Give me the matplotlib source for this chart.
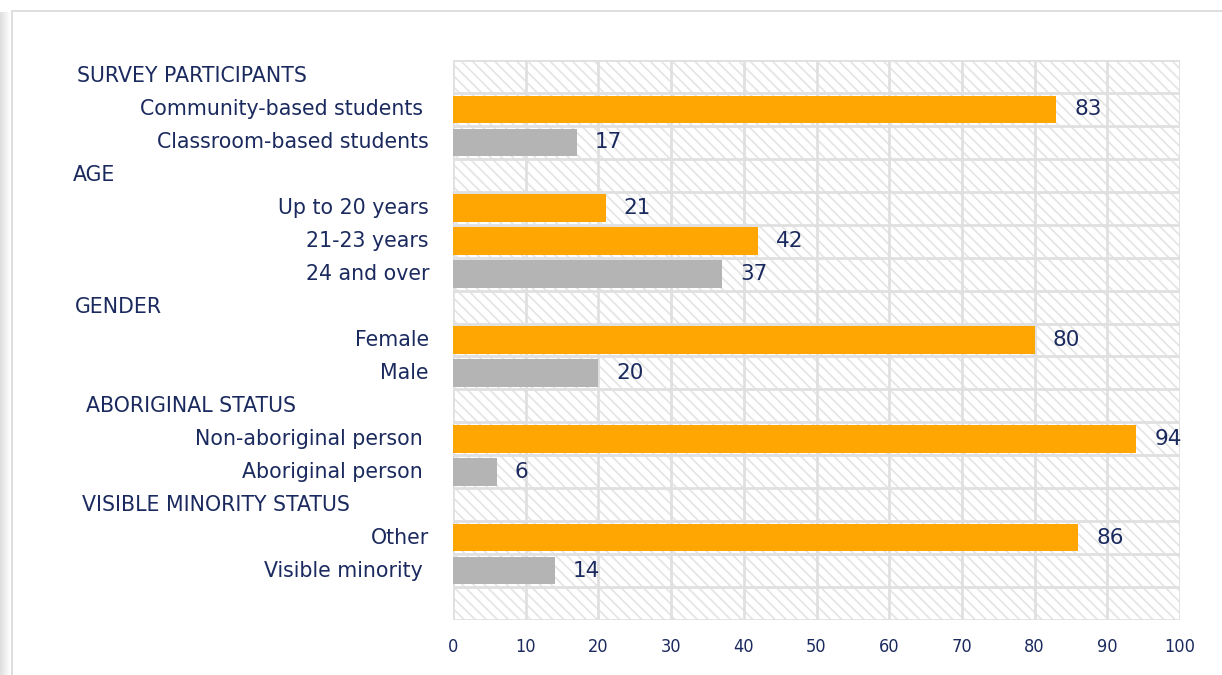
import numpy as np
import matplotlib.pyplot as plt
from matplotlib.patches import Rectangle

plt.rcParams['font.family'] = ['DejaVu Sans']
plt.rcParams['hatch.linewidth'] = 1.2
plt.rcParams['hatch.color'] = '#e4e4e4'

# rows from top to bottom; 'h' marks a section header
labels = ["SURVEY PARTICIPANTS", "Community-based students ", "Classroom-based students",
          "AGE", "Up to 20 years", "21-23 years", "24 and over",
          "GENDER", "Female", "Male",
          "ABORIGINAL STATUS", "Non-aboriginal person ", "Aboriginal person ",
          "VISIBLE MINORITY STATUS", "Other", "Visible minority "]
values = [None, 83, 17, None, 21, 42, 37, None, 80, 20, None, 94, 6, None, 86, 14]
kinds = ['h', 'o', 'g', 'h', 'o', 'o', 'g', 'h', 'o', 'g', 'h', 'o', 'g', 'h', 'o', 'g']
header_x = {"SURVEY PARTICIPANTS": 77, "AGE": 73, "GENDER": 75,
            "ABORIGINAL STATUS": 86, "VISIBLE MINORITY STATUS": 82}
xticks = list(range(0, 101, 10))

orange = '#FFA602'
grey = '#B4B4B4'
navy = '#1B2A5E'

W, H = 1222, 675
fig = plt.figure(figsize=(W / 100, H / 100), dpi=100)

# card frame with soft left shadow
for i, a in enumerate(np.linspace(0.25, 0.02, 10)):
    fig.patches.append(Rectangle((i / W, 0), 1.2 / W, 1 - 12 / H, transform=fig.transFigure,
                                 facecolor='#808080', alpha=a, edgecolor='none', zorder=-10))
fig.patches.append(Rectangle((12 / W, -0.01), 1, 1 - 11 / H + 0.01, transform=fig.transFigure,
                             facecolor='white', edgecolor='#d8d8d8', lw=1.2, zorder=-9))

ax = fig.add_axes([453 / W, 1 - 620 / H, 727 / W, 560 / H])
ax.patch.set_alpha(0)
nrows = len(labels) + 1
ax.set_xlim(0, 100)
ax.set_ylim(nrows - 0.5, -0.5)

# hatched background
ax.add_patch(Rectangle((0, -0.5), 100, nrows, facecolor='white', hatch='\\\\\\',
                       edgecolor='#e4e4e4', lw=0, zorder=0))
for x in xticks:
    ax.axvline(x, color='#e0e0e0', lw=2, zorder=1)
for y in np.arange(-0.5, nrows, 1):
    ax.axhline(y, color='#e0e0e0', lw=2, zorder=1)

for i, (lab, v, k) in enumerate(zip(labels, values, kinds)):
    if k == 'h':
        ax.annotate(lab, (0, i), xycoords=('axes fraction', 'data'),
                    xytext=(header_x[lab] - 453, 0), textcoords='offset pixels',
                    va='center', ha='left', fontsize=14.8, color=navy)
        continue
    ax.barh(i, v, height=0.84, color=orange if k == 'o' else grey, zorder=2)
    ax.annotate(str(v), (v, i), xytext=(18, 0), textcoords='offset pixels',
                va='center', ha='left', fontsize=15.5, color=navy, zorder=3)
    ax.annotate(lab, (0, i), xycoords=('axes fraction', 'data'), xytext=(-24, 0),
                textcoords='offset pixels', va='center', ha='right',
                fontsize=14.8, color=navy)

ax.set_yticks([])
ax.set_xticks(xticks)
ax.tick_params(axis='x', length=0, pad=13, labelsize=13, labelcolor=navy)
for t in ax.get_xticklabels():
    t.set_fontstretch('condensed')
for s in ax.spines.values():
    s.set_visible(False)

fig.savefig('out.png', dpi=100)
